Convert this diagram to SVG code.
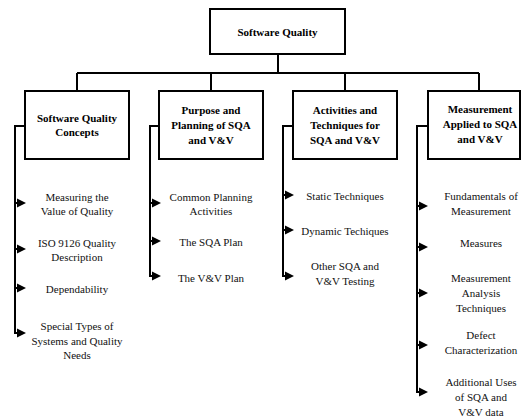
<svg xmlns="http://www.w3.org/2000/svg" width="522" height="417" viewBox="0 0 522 417">
<style>
.box{fill:#fff;stroke:#000;stroke-width:2}
.ln{fill:none;stroke:#000;stroke-width:2}
.hd{font-family:'Liberation Serif','DejaVu Serif',serif;font-size:11px;font-weight:bold;text-anchor:middle;fill:#000}
.it{font-family:'Liberation Serif','DejaVu Serif',serif;font-size:11px;text-anchor:middle;fill:#111}
</style>
<defs>
<polygon id="ah" points="2,-4.5 11,0 2,4.5" fill="#000"/>
</defs>
<rect width="522" height="417" fill="#fff"/>
<g id="connectors">
<path class="ln" d="M278,54V73M77,73H479M77,73V91M211,73V91M345,73V91M479,73V91"/>
<path class="ln" d="M25,126H15V333H18M15,203H18M15,249H18M15,288H18"/>
<use href="#ah" x="15" y="203"/><use href="#ah" x="15" y="249"/><use href="#ah" x="15" y="288"/><use href="#ah" x="15" y="333"/>
<path class="ln" d="M159,126H150V276H153M150,203H153M150,241H153"/>
<use href="#ah" x="150" y="203"/><use href="#ah" x="150" y="241"/><use href="#ah" x="150" y="276"/>
<path class="ln" d="M293,126H283V276H286M283,195H286M283,230H286"/>
<use href="#ah" x="283" y="195"/><use href="#ah" x="283" y="230"/><use href="#ah" x="283" y="276"/>
<path class="ln" d="M428,126H417V392H420M417,206H420M417,247H420M417,293H420M417,345H420"/>
<use href="#ah" x="417" y="206"/><use href="#ah" x="417" y="247"/><use href="#ah" x="417" y="293"/><use href="#ah" x="417" y="345"/><use href="#ah" x="417" y="392"/>
</g>
<g id="root">
<rect class="box" x="210" y="9" width="135" height="45"/>
<text class="hd" x="277.5" y="36">Software Quality</text>
</g>
<g id="concepts">
<rect class="box" x="25" y="91" width="104" height="68"/>
<text class="hd" x="77" y="122">Software Quality</text>
<text class="hd" x="77" y="136">Concepts</text>
</g>
<g id="planning">
<rect class="box" x="159" y="91" width="104" height="68"/>
<text class="hd" x="211" y="114">Purpose and</text>
<text class="hd" x="211" y="129">Planning of SQA</text>
<text class="hd" x="211" y="144">and V&amp;V</text>
</g>
<g id="activities">
<rect class="box" x="293" y="91" width="104" height="68"/>
<text class="hd" x="345" y="114">Activities and</text>
<text class="hd" x="345" y="129">Techniques for</text>
<text class="hd" x="345" y="144">SQA and V&amp;V</text>
</g>
<g id="measurement">
<rect class="box" x="428" y="91" width="92" height="68"/>
<text class="hd" x="480" y="113">Measurement</text>
<text class="hd" x="480" y="128">Applied to SQA</text>
<text class="hd" x="480" y="143">and V&amp;V</text>
</g>
<g id="c1-items">
<text class="it" x="77" y="201">Measuring the</text>
<text class="it" x="77" y="215">Value of Quality</text>
<text class="it" x="77" y="247">ISO 9126 Quality</text>
<text class="it" x="77" y="261">Description</text>
<text class="it" x="77" y="293">Dependability</text>
<text class="it" x="77" y="330">Special Types of</text>
<text class="it" x="77" y="345">Systems and Quality</text>
<text class="it" x="77" y="359">Needs</text>
</g>
<g id="c2-items">
<text class="it" x="211" y="201">Common Planning</text>
<text class="it" x="211" y="215">Activities</text>
<text class="it" x="211" y="246">The SQA Plan</text>
<text class="it" x="211" y="282">The V&amp;V Plan</text>
</g>
<g id="c3-items">
<text class="it" x="345" y="200">Static Techniques</text>
<text class="it" x="345" y="235">Dynamic Techiques</text>
<text class="it" x="345" y="270">Other SQA and</text>
<text class="it" x="345" y="285">V&amp;V Testing</text>
</g>
<g id="c4-items">
<text class="it" x="481" y="200">Fundamentals of</text>
<text class="it" x="481" y="215">Measurement</text>
<text class="it" x="481" y="247">Measures</text>
<text class="it" x="481" y="282">Measurement</text>
<text class="it" x="481" y="297">Analysis</text>
<text class="it" x="481" y="312">Techniques</text>
<text class="it" x="481" y="339">Defect</text>
<text class="it" x="481" y="354">Characterization</text>
<text class="it" x="481" y="386">Additional Uses</text>
<text class="it" x="481" y="401">of SQA and</text>
<text class="it" x="481" y="416">V&amp;V data</text>
</g>
</svg>
